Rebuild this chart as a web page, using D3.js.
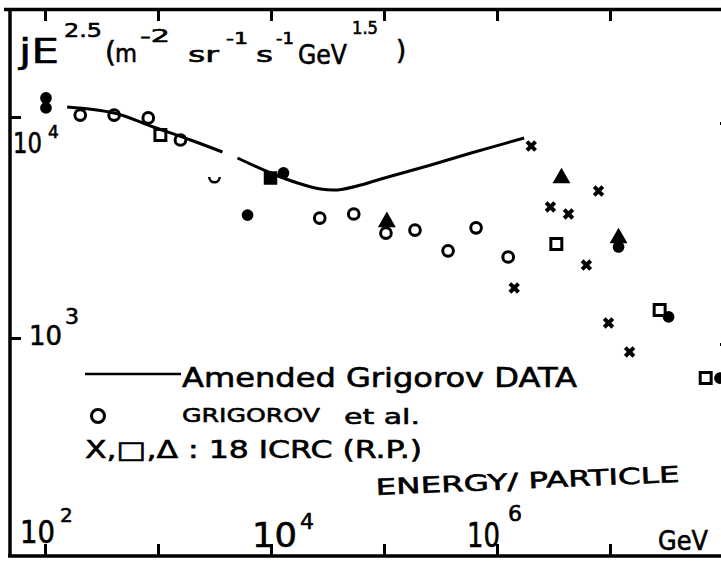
<!DOCTYPE html>
<html>
<head>
<meta charset="utf-8">
<script src="https://cdn.jsdelivr.net/npm/d3@7"></script>
<style>
  body { margin: 0; background: #fff; }
  text { font-family: "DejaVu Sans", sans-serif; fill: #000; stroke: #000; stroke-width: 0.6; }
</style>
</head>
<body>
<div id="chart"></div>
<script>
// energy per particle (GeV) and jE^2.5 flux
const grigorovE = [205, 409, 820, 1580, 27000, 54000, 104000, 188000, 369000, 653000, 1256000];
const grigorovF = [10200, 10200, 9900, 7870, 3490, 3640, 2985, 3080, 2480, 3150, 2325];

const halfCircleE = [3160];
const halfCircleF = [5350];

const filledE = [102, 102, 6200, 12900, 11900000, 33000000, 94000000];
const filledF = [12190, 10990, 3600, 5580, 2581, 1245, 659];

const filledSquareE = [9900];
const filledSquareF = [5300];

const squareE = [1050, 3350000, 27500000, 70300000];
const squareF = [8290, 2663, 1339, 659];

const triangleE = [106000, 3720000, 11900000];
const triangleF = [3350, 5295, 2835];

const crossE = [2010000, 7910000, 2970000, 4290000, 6180000, 1420000, 9700000, 14900000];
const crossF = [7393, 4626, 3917, 3641, 2138, 1684, 1170, 865];

// amended Grigorov curve, drawn in two pieces
const curveE1 = [157, 409, 908, 1940, 3720];
const curveF1 = [11100, 10420, 9010, 7870, 6945];
const curveE2 = [5050, 9920, 17200, 27500, 39000, 62400, 93900, 260000, 590000, 1740000];
const curveF2 = [6523, 5580, 5028, 4721, 4677, 4920, 5243, 6066, 6870, 8035];

const xTicks = [1e2, 1e3, 1e4, 1e5, 1e6, 1e7];
const yTicks = [1e3, 1e4];

class FluxChart {

    constructor() {
        this.width = 721;
        this.height = 562;

        this.svg = d3.select('#chart')
            .append('svg')
            .attr('width', this.width)
            .attr('height', this.height)

        this.x = d3.scaleLog().domain([1e2, 1e7]).range([45, 610]);
        this.y = d3.scaleLog().domain([1e3, 1e4]).range([338, 117]);
    }

    drawFrame() {
        var svg = this.svg;
        svg.append('path')
            .attr('d', 'M4,9.5H721M10,8V557M8,556H721')
            .attr('fill', 'none')
            .attr('stroke', '#000')
            .attr('stroke-width', 3.5);

        var axes = [
            [d3.axisBottom(this.x).tickValues(xTicks).tickSize(-11), 'translate(0,555)'],
            [d3.axisTop(this.x).tickValues(xTicks).tickSize(-10), 'translate(0,11)'],
            [d3.axisLeft(this.y).tickValues(yTicks).tickSize(-10), 'translate(11,0)'],
            [d3.axisLeft(this.y).tickValues(yTicks).tickSize(5), 'translate(725,6)']
        ];
        axes.forEach(function(a) {
            var g = svg.append('g').attr('transform', a[1]).call(a[0].tickFormat(''));
            g.select('.domain').remove();
            g.selectAll('line').attr('stroke', '#000').attr('stroke-width', 3);
        });
    }

    text(x, y, str, size, len) {
        var t = this.svg.append('text')
            .attr('x', x)
            .attr('y', y)
            .attr('font-size', size)
            .text(str);
        if (len) {
            t.attr('textLength', len).attr('lengthAdjust', 'spacingAndGlyphs');
        }
        return t;
    }

    drawLabels() {
        // y axis title
        this.text(19, 63, 'jE', 34, 40);
        this.text(64, 37, '2.5', 20, 38);
        this.text(105, 62, '(', 28);
        this.text(115, 62, 'm', 24, 22);
        this.text(140, 42, '-2', 18, 30);
        this.text(188, 62, 'sr', 22, 31);
        this.text(226, 44, '-1', 16, 22);
        this.text(256, 62, 's', 22, 17);
        this.text(276, 44, '-1', 16, 18);
        this.text(298, 64, 'GeV', 27, 49);
        this.text(352, 34, '1.5', 17, 26);
        this.text(396, 59, ')', 26);

        // tick labels
        var x = this.x, y = this.y;
        this.text(13, y(1e4) + 36, '10', 28, 29);
        this.text(48, y(1e4) + 21, '4', 17);
        this.text(29, y(1e3) + 7, '10', 27, 33);
        this.text(65, y(1e3) - 14, '3', 22);

        this.text(x(1e2) - 25, 543, '10', 32, 35);
        this.text(x(1e2) + 15, 522, '2', 20);
        this.text(x(1e4) - 19, 547, '10', 34, 45);
        this.text(x(1e4) + 29, 529, '4', 22);
        this.text(x(1e6) - 30, 547, '10', 34, 33);
        this.text(x(1e6) + 11, 521, '6', 22);
        this.text(658, 550, 'GeV', 26, 50);

        this.text(376, 495, 'ENERGY/ PARTICLE', 22, 304)
            .attr('transform', 'rotate(-2.5,376,495)');

        // legend
        this.svg.append('line')
            .attr('x1', 85).attr('x2', 181)
            .attr('y1', 374).attr('y2', 374)
            .attr('stroke', '#000').attr('stroke-width', 2.5);
        this.text(182, 387, 'Amended  Grigorov  DATA', 26, 395);
        this.svg.append('circle')
            .attr('cx', 98).attr('cy', 416).attr('r', 6.5)
            .attr('fill', 'none').attr('stroke', '#000').attr('stroke-width', 3);
        this.text(182, 422, 'GRIGOROV', 20, 138);
        this.text(344, 424, 'et  al.', 22, 76);
        this.text(85, 458, 'X,\u25A1,\u0394 : 18 ICRC (R.P.)', 24, 337);
    }

    drawCurve() {
        var x = this.x, y = this.y;
        var line = d3.line()
            .x(function(d) { return x(d[0]) })
            .y(function(d) { return y(d[1]) })
            .curve(d3.curveCatmullRom);

        [d3.zip(curveE1, curveF1), d3.zip(curveE2, curveF2)].forEach((pts) => {
            this.svg.append('path')
                .attr('d', line(pts))
                .attr('fill', 'none')
                .attr('stroke', '#000')
                .attr('stroke-width', 3);
        });
    }

    drawPoints(es, fs, type, size, filled, cls) {
        var x = this.x, y = this.y;
        this.svg.selectAll('path.' + cls)
            .data(d3.zip(es, fs))
            .join('path')
            .attr('class', cls)
            .attr('transform', function(d) { return 'translate(' + x(d[0]) + ',' + y(d[1]) + ')' })
            .attr('d', d3.symbol().type(type).size(size)())
            .attr('fill', filled ? '#000' : 'none')
            .attr('stroke', '#000')
            .attr('stroke-width', type === d3.symbolTimes ? 4 : 3);
    }

    drawAll() {
        this.drawFrame();
        this.drawCurve();
        this.drawPoints(grigorovE, grigorovF, d3.symbolCircle, 90, false, 'grig');
        this.drawPoints(filledE, filledF, d3.symbolCircle, 60, true, 'filled');
        this.drawPoints(filledSquareE, filledSquareF, d3.symbolSquare, 110, true, 'fsq');
        this.drawPoints(squareE, squareF, d3.symbolSquare, 120, false, 'sq');
        this.drawPoints(triangleE, triangleF, d3.symbolTriangle, 70, true, 'tri');
        this.drawPoints(crossE, crossF, d3.symbolTimes, 50, false, 'cross');

        // half erased circle
        var x = this.x, y = this.y;
        var arc = d3.arc().innerRadius(4).outerRadius(6.5)
            .startAngle(Math.PI / 2).endAngle(Math.PI * 1.5);
        this.svg.selectAll('path.half')
            .data(d3.zip(halfCircleE, halfCircleF))
            .join('path')
            .attr('class', 'half')
            .attr('transform', function(d) { return 'translate(' + x(d[0]) + ',' + y(d[1]) + ')' })
            .attr('d', arc())
            .attr('fill', '#000');

        this.drawLabels();
    }
}

var chart = new FluxChart();
chart.drawAll();
</script>
</body>
</html>
